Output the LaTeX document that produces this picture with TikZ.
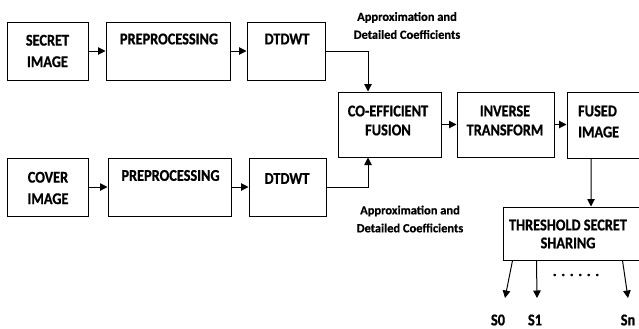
\documentclass[tikz,border=0pt]{standalone}
\usepackage{fontspec}
\setmainfont{Carlito}[BoldFeatures={FakeBold=0.6}]
\newfontfamily\bigf{Carlito}[FakeStretch=0.87,BoldFeatures={FakeBold=0.8}]
\usetikzlibrary{arrows.meta,fit,calc}
\tikzset{
  box/.style={draw=black, line width=1bp, inner sep=0pt, fill=white},
  arr/.style={draw=black, line width=1bp, -{Triangle[length=7.5bp,width=7.5bp]}},
  big/.style={font=\bigf\bfseries\fontsize{16.5}{20}\selectfont, align=center, inner sep=0pt},
  small/.style={font=\bfseries\fontsize{12.5}{18}\selectfont, align=center, inner sep=0pt},
}
\begin{document}
\begin{tikzpicture}[x=1bp,y=-1bp]
\useasboundingbox (0,0) rectangle (639,328);
\clip (0,0) rectangle (639,328);
% boxes
\node[box, fit={(7,22)(88,80)}] (secret) {};
\node[box, fit={(106,22)(230,80)}] (pre1) {};
\node[box, fit={(247,22)(325,80)}] (dt1) {};
\node[box, fit={(7,158)(88,216)}] (cover) {};
\node[box, fit={(108,158)(231,216)}] (pre2) {};
\node[box, fit={(249,158)(326,216)}] (dt2) {};
\node[box, fit={(338,92)(441,157)}] (coef) {};
\node[box, fit={(457,92)(554,157)}] (inv) {};
\node[box, fit={(567,92)(650,158)}] (fused) {};
\node[box, fit={(503,207)(650,260)}] (thr) {};
% texts
\node[big, font=\bigf\bfseries\fontsize{16.5}{21.5}\selectfont] (tsecret) at (47.5,51) {SECRET\\IMAGE};
\node[big] (tpre1) at (169,39) {PREPROCESSING};
\node[big] (tdt1) at (287,39) {DTDWT};
\node[big, font=\bigf\bfseries\fontsize{16.5}{21.5}\selectfont] (tcover) at (48,188) {COVER\\IMAGE};
\node[big] (tpre2) at (170.5,175.5) {PREPROCESSING};
\node[big] (tdt2) at (287,178.5) {DTDWT};
\node[big, font=\bigf\bfseries\fontsize{16.5}{19}\selectfont] (tcoef) at (388,120.5) {CO-EFFICIENT\\FUSION};
\node[big, font=\bigf\bfseries\fontsize{16.5}{19}\selectfont] (tinv) at (505,120.5) {INVERSE\\TRANSFORM};
\node[big, align=left, anchor=west, font=\bigf\bfseries\fontsize{16.5}{21}\selectfont] (tfused) at (578,121.5) {FUSED\\IMAGE};
\node[big, font=\bigf\bfseries\fontsize{16.5}{18}\selectfont] (tthr) at (568,234) {THRESHOLD SECRET\\SHARING};
\node[small] (lab1) at (407,25.5) {Approximation and\\Detailed Coefficients};
\node[small] (lab2) at (410,219) {Approximation and\\Detailed Coefficients};
\node[small, font=\bfseries\fontsize{15}{15}\selectfont] (dots) at (576,275) {. . . . . .};
\node[big] (s0) at (498,320) {S0};
\node[big] (s1) at (535,320) {S1};
\node[big] (sn) at (628,320) {Sn};
% connectors
\draw[arr] (secret.east) -- (pre1.west);
\draw[arr] (pre1.east) -- (dt1.west);
\draw[arr] (cover.east) -- (pre2.west);
\draw[arr] (pre2.east) -- (dt2.west);
\draw[arr] (dt1.east) -| ([xshift=-21.5bp]coef.north);
\draw[arr] (dt2.east) -| ([xshift=-21.5bp]coef.south);
\draw[arr] (coef.east) -- (inv.west);
\draw[arr] (inv.east) -- (inv.east -| fused.west);
\draw[arr] ([xshift=-17.5bp]fused.south) -- ([xshift=14.5bp]thr.north);
\draw[arr] ($(thr.south west)+(10,0)$) -- ($(s0)+(7,-22)$);
\draw[arr] ($(thr.south west)+(34,0)$) -- ($(s1)+(2,-22)$);
\draw[arr] ($(thr.south west)+(120,0)$) -- ($(sn)+(0,-22)$);
\end{tikzpicture}
\end{document}
